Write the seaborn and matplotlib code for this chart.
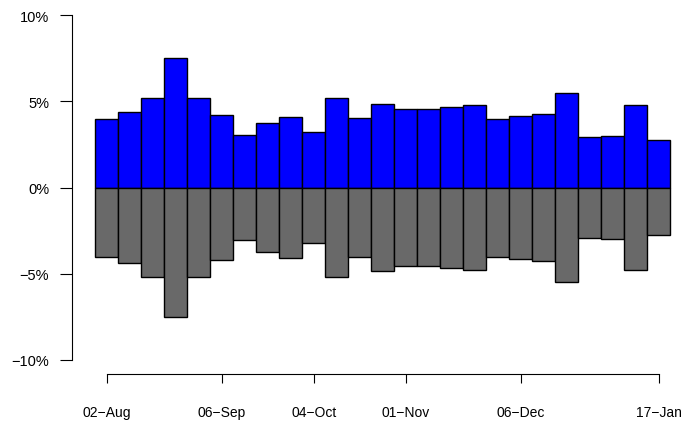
import matplotlib
matplotlib.use("Agg")
import matplotlib.pyplot as plt
import pandas as pd
import seaborn as sns

# weekly values (percent)
weeks = pd.date_range("2020-08-02", periods=25, freq="7D")
values = [4.0, 4.35, 5.18, 7.52, 5.16, 4.21, 3.05, 3.75, 4.11, 3.23, 5.20, 4.02, 4.85,
          4.56, 4.54, 4.64, 4.81, 4.0, 4.17, 4.25, 5.49, 2.92, 3.01, 4.81, 2.78]
tick_idx = [0, 5, 9, 13, 18, 24]
tick_labels = ["02\u2212Aug", "06\u2212Sep", "04\u2212Oct", "01\u2212Nov", "06\u2212Dec", "17\u2212Jan"]
y_ticks = [-10, -5, 0, 5, 10]
y_labels = ["\u221210%", "\u22125%", "0%", "5%", "10%"]

df = pd.DataFrame({"week": weeks.strftime("%d-%b"), "up": values})
df["down"] = -df["up"]

sns.set_style("white")
plt.rcParams["font.family"] = ["Liberation Sans", "DejaVu Sans"]

fig = plt.figure(figsize=(6.85, 4.27), dpi=100)
ax = fig.add_axes([72 / 685, (427 - 361) / 427, (682 - 72) / 685, (361 - 16) / 427])

sns.barplot(data=df, x="week", y="up", color="#0000FF", saturation=1, width=1,
            edgecolor="black", linewidth=1, ax=ax)
sns.barplot(data=df, x="week", y="down", color="#696969", saturation=1, width=1,
            edgecolor="black", linewidth=1, ax=ax)

ax.set_xlim(-1.5, 25.0)
ax.set_ylim(-10, 10)
ax.set_xlabel("")
ax.set_ylabel("")

ax.set_yticks(y_ticks)
ax.set_yticklabels(y_labels, fontsize=10.5)
ax.set_xticks(tick_idx)
ax.set_xticklabels(tick_labels, fontsize=10.5)

for s in ["top", "right"]:
    ax.spines[s].set_visible(False)
ax.spines["left"].set_bounds(-10, 10)
ax.spines["bottom"].set_bounds(0, 24)
ax.spines["bottom"].set_position(("outward", 10))
for s in ["left", "bottom"]:
    ax.spines[s].set_color("black")
    ax.spines[s].set_linewidth(0.8)

ax.tick_params(axis="y", length=8.5, width=0.8, pad=8, color="black", labelcolor="black", left=True)
ax.tick_params(axis="x", length=6.5, width=0.8, pad=16, color="black", labelcolor="black", bottom=True)

fig.savefig("out.png", dpi=100)
